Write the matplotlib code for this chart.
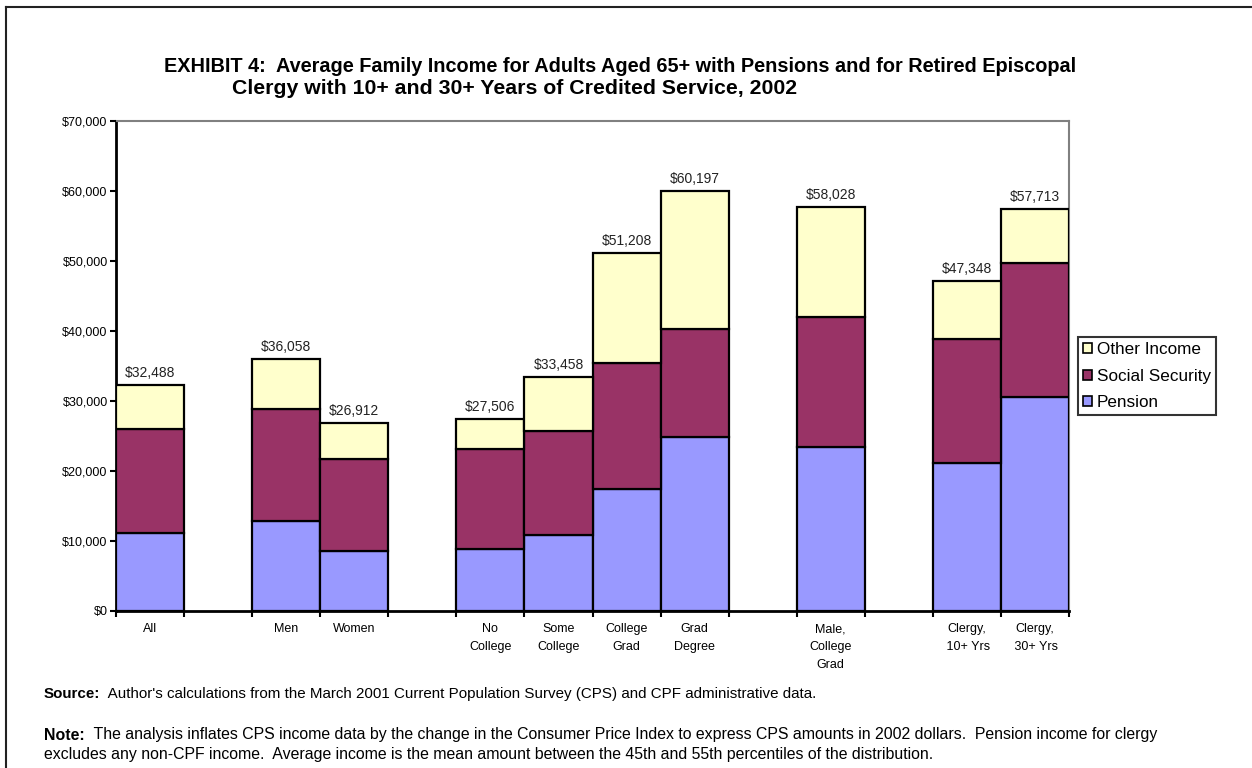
import numpy as np
import matplotlib
matplotlib.use("Agg")
import matplotlib.pyplot as plt
from matplotlib.lines import Line2D
from matplotlib.patches import Patch
from matplotlib.ticker import StrMethodFormatter

plt.rcParams['font.family'] = ['Liberation Sans', 'DejaVu Sans']

categories = ["All", "Men", "Women", "No\nCollege", "Some\nCollege", "College\nGrad",
              "Grad\nDegree", "Male,\nCollege\nGrad", "Clergy,\n 10+ Yrs", "Clergy,\n 30+ Yrs"]
group_sizes = [1, 2, 4, 1, 2]
pension = [11140, 12860, 8570, 8810, 10810, 17390, 24860, 23390, 21100, 30510]
social_security = [14860, 16000, 13140, 14310, 14860, 18040, 15390, 18570, 17710, 19160]
other_income = [6290, 7100, 5140, 4310, 7720, 15670, 19710, 15710, 8290, 7720]
total_labels = ["$32,488", "$36,058", "$26,912", "$27,506", "$33,458", "$51,208",
                "$60,197", "$58,028", "$47,348", "$57,713"]
series_names = ["Pension", "Social Security", "Other Income"]
colors = ["#9999FF", "#993366", "#FFFFCC"]

W, H = 1252, 768
fig = plt.figure(figsize=(W / 100, H / 100), dpi=100)
ax = fig.add_axes([116 / W, 1 - 610.7 / H, (1069 - 116) / W, (610.7 - 121) / H])

# positions: one empty slot between groups
positions = []
slot = 0
for gi, g in enumerate(group_sizes):
    for k in range(g):
        positions.append(slot + 0.5)
        slot += 1
    if gi < len(group_sizes) - 1:
        slot += 1
n_slots = slot
x = np.array(positions)

p = np.array(pension, float)
s = np.array(social_security, float)
o = np.array(other_income, float)
kw = dict(width=1.0, edgecolor="black", linewidth=1.6, zorder=3)
ax.bar(x, p, color=colors[0], **kw)
ax.bar(x, s, bottom=p, color=colors[1], **kw)
ax.bar(x, o, bottom=p + s, color=colors[2], **kw)

for xi, top, lab in zip(x, p + s + o, total_labels):
    ax.annotate(lab, (xi, top), xytext=(0, 3.5), textcoords="offset points",
                ha="center", va="bottom", fontsize=10, color="#222222")

ax.set_xlim(0, n_slots)
ax.set_ylim(0, 70000)
ax.set_yticks(np.arange(0, 70001, 10000))
ax.yaxis.set_major_formatter(StrMethodFormatter("${x:,.0f}"))
ax.tick_params(axis="y", direction="out", length=4, width=1.5, labelsize=9, pad=2)

ax.set_xticks(x)
ax.set_xticklabels(categories, fontsize=9, linespacing=1.65)
ax.tick_params(axis="x", which="major", length=0, pad=9)
ax.set_xticks(np.arange(0, n_slots + 1), minor=True)
ax.tick_params(axis="x", which="minor", direction="out", length=4, width=1.5)

for side in ("left", "bottom"):
    ax.spines[side].set_linewidth(2)
    ax.spines[side].set_color("black")
for side in ("top", "right"):
    ax.spines[side].set_linewidth(1.5)
    ax.spines[side].set_color("#808080")
ax.set_axisbelow(False)

# legend
handles = [Patch(facecolor=colors[i], edgecolor="black", linewidth=1.2, label=series_names[i])
           for i in (2, 1, 0)]
leg = fig.legend(handles=handles, loc="upper left", bbox_to_anchor=(1078 / W, 1 - 337 / H),
                 fontsize=12.3, frameon=True, fancybox=False, shadow=False,
                 handlelength=0.5, handleheight=0.5, handletextpad=0.3,
                 borderpad=0.3, labelspacing=0.68, borderaxespad=0)
leg.get_frame().set_edgecolor("black")
leg.get_frame().set_linewidth(1.5)

# title
fig.text(620 / W, 1 - 66 / H,
         "EXHIBIT 4:  Average Family Income for Adults Aged 65+ with Pensions and for Retired Episcopal",
         ha="center", va="center", fontsize=14.3, fontweight="bold")
fig.text(232 / W, 1 - 88 / H,
         "Clergy with 10+ and 30+ Years of Credited Service, 2002",
         ha="left", va="center", fontsize=15.3, fontweight="bold")

# footnotes
fig.canvas.draw()
renderer = fig.canvas.get_renderer()

def rich_line(xpx, ypx, bold, normal, fs):
    t = fig.text(xpx / W, 1 - ypx / H, bold, ha="left", va="center",
                 fontsize=fs, fontweight="bold")
    bb = t.get_window_extent(renderer=renderer)
    fig.text(bb.x1 / W, 1 - ypx / H, normal, ha="left", va="center", fontsize=fs)

rich_line(44, 694, "Source:",
          "  Author's calculations from the March 2001 Current Population Survey (CPS) and CPF administrative data.",
          10.9)
rich_line(44, 735, "Note:",
          "  The analysis inflates CPS income data by the change in the Consumer Price Index to express CPS amounts in 2002 dollars.  Pension income for clergy",
          11.4)
fig.text(44 / W, 1 - 754 / H,
         "excludes any non-CPF income.  Average income is the mean amount between the 45th and 55th percentiles of the distribution.",
         ha="left", va="center", fontsize=11.4)

# outer border (top and left visible)
fig.add_artist(Line2D([6 / W, 1.0], [1 - 7 / H, 1 - 7 / H], color="#222222", linewidth=1.5))
fig.add_artist(Line2D([6 / W, 6 / W], [1 - 7 / H, 0.0], color="#222222", linewidth=1.5))

fig.savefig("out.png", dpi=100)
